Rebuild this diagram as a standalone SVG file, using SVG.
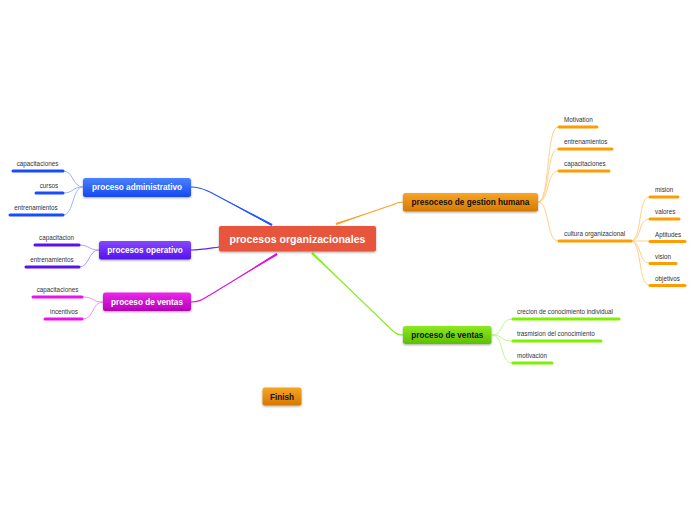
<svg xmlns="http://www.w3.org/2000/svg" width="696" height="520" viewBox="0 0 696 520">
<defs>
<filter id="sh" x="-20%" y="-30%" width="140%" height="180%"><feDropShadow dx="0" dy="1" stdDeviation="0.8" flood-color="#000" flood-opacity="0.35"/></filter>
<linearGradient id="gBlue" x1="0" y1="0" x2="0" y2="1"><stop offset="0" stop-color="#4a82ff"/><stop offset="1" stop-color="#1747ee"/></linearGradient>
<linearGradient id="gPurple" x1="0" y1="0" x2="0" y2="1"><stop offset="0" stop-color="#8447ff"/><stop offset="1" stop-color="#5512ee"/></linearGradient>
<linearGradient id="gMag" x1="0" y1="0" x2="0" y2="1"><stop offset="0" stop-color="#ea28ea"/><stop offset="1" stop-color="#b600b6"/></linearGradient>
<linearGradient id="gOr" x1="0" y1="0" x2="0" y2="1"><stop offset="0" stop-color="#f8a526"/><stop offset="1" stop-color="#d67800"/></linearGradient>
<linearGradient id="gGr" x1="0" y1="0" x2="0" y2="1"><stop offset="0" stop-color="#8de820"/><stop offset="1" stop-color="#5cc000"/></linearGradient>
</defs>
<style>
.node text{font-family:"Liberation Sans",Arial,sans-serif;font-weight:bold;font-size:8.2px;text-anchor:middle}
.lbl{font-family:"Liberation Sans",Arial,sans-serif;font-size:6.3px;fill:#333}
.lc{text-anchor:middle}
.ul{stroke-width:3;stroke-linecap:round;fill:none}
.cn{fill:none;stroke-width:1;opacity:0.6}
.main{fill:none;stroke-width:1.2}
</style>
<rect width="696" height="520" fill="#fff"/>

<g id="connectors">
<path class="main" stroke="#2255ff" d="M191,187 C200,187 203,189 210,192 L272,225"/>
<polygon fill="#2255ff" points="225,200 272.56,223.94 271.44,226.06"/>
<path class="main" stroke="#6220f5" d="M191,250 C200,250 205,249 219,247"/>
<path class="main" stroke="#e010e0" d="M191,302 C200,302 203,299 210,295 L277,254"/>
<polygon fill="#e010e0" points="230,282.76 277.63,255.02 276.37,252.98"/>
<path class="main" stroke="#ffa020" d="M336,224 L392,205 C396,203 398,202 403,202"/>
<polygon fill="#ffa020" points="335.6,222.9 336.4,225.1 370,212.46"/>
<path class="main" stroke="#88ee22" d="M312,253 L393,331 C396,334 398,335 403,335"/>
<polygon fill="#88ee22" points="311.17,253.86 312.83,252.14 348.45,288.1"/>

<g stroke="#5b82ff" class="cn">
<path d="M83,187 C72,187 74,171 63,171"/>
<path d="M83,187 C72,187 74,193 63,193"/>
<path d="M83,187 C72,187 74,215 63,215"/>
</g>
<g stroke="#8a55ff" class="cn">
<path d="M99,250 C88,250 90,245 79,245"/>
<path d="M99,250 C88,250 90,267 79,267"/>
</g>
<g stroke="#ee44ee" class="cn">
<path d="M103,302 C92,302 94,297 83,297"/>
<path d="M103,302 C92,302 94,319 83,319"/>
</g>
<g stroke="#ffb040" class="cn">
<path d="M538,202 C550,202 546,127 558,127"/>
<path d="M538,202 C550,202 546,149 558,149"/>
<path d="M538,202 C550,202 546,171 558,171"/>
<path d="M538,202 C550,202 546,241 558,241"/>
<path d="M631,241 C642,241 638,197 649,197"/>
<path d="M631,241 C642,241 638,219 649,219"/>
<path d="M631,241 L649,241"/>
<path d="M631,241 C642,241 638,263 649,263"/>
<path d="M631,241 C642,241 638,285 649,285"/>
</g>
<g stroke="#99ee44" class="cn">
<path d="M492,335 C504,335 500,319 512,319"/>
<path d="M492,335 C504,335 500,341 512,341"/>
<path d="M492,335 C504,335 500,363 512,363"/>
</g>
</g>

<g id="central" class="node">
<rect x="219" y="226" width="157" height="25.5" rx="2" fill="#e8543c" filter="url(#sh)"/>
<text x="297.5" y="242.6" fill="#fff" style="font-size:10.6px">procesos organizacionales</text>
</g>

<g id="proceso-administrativo" class="node">
<rect x="83" y="178" width="108" height="19" rx="2.5" fill="url(#gBlue)" filter="url(#sh)"/>
<text x="137" y="190.3" fill="#fff">proceso administrativo</text>
</g>
<g id="admin-capacitaciones"><text class="lbl lc" x="37.5" y="166">capacitaciones</text><line class="ul" stroke="#1a4cff" x1="13" y1="171" x2="63" y2="171"/></g>
<g id="admin-cursos"><text class="lbl lc" x="49" y="188">cursos</text><line class="ul" stroke="#1a4cff" x1="36" y1="193" x2="63" y2="193"/></g>
<g id="admin-entrenamientos"><text class="lbl lc" x="36" y="210">entrenamientos</text><line class="ul" stroke="#1a4cff" x1="10" y1="215" x2="63" y2="215"/></g>

<g id="procesos-operativo" class="node">
<rect x="99" y="241" width="92" height="18.5" rx="2.5" fill="url(#gPurple)" filter="url(#sh)"/>
<text x="145" y="253" fill="#fff">procesos operativo</text>
</g>
<g id="op-capacitacion"><text class="lbl lc" x="56.5" y="240">capacitacion</text><line class="ul" stroke="#5a10f0" x1="35" y1="245" x2="79" y2="245"/></g>
<g id="op-entrenamientos"><text class="lbl lc" x="52" y="262">entrenamientos</text><line class="ul" stroke="#5a10f0" x1="26" y1="267" x2="79" y2="267"/></g>

<g id="proceso-ventas-left" class="node">
<rect x="103" y="292.5" width="88" height="18.5" rx="2.5" fill="url(#gMag)" filter="url(#sh)"/>
<text x="147" y="304.7" fill="#fff">proceso de ventas</text>
</g>
<g id="v-capacitaciones"><text class="lbl lc" x="57.5" y="292">capacitaciones</text><line class="ul" stroke="#ee10ee" x1="33" y1="297" x2="82" y2="297"/></g>
<g id="v-incentivos"><text class="lbl lc" x="64" y="314">incentivos</text><line class="ul" stroke="#ee10ee" x1="45" y1="319" x2="82" y2="319"/></g>

<g id="gestion-humana" class="node">
<rect x="403" y="193" width="135" height="18.5" rx="2.5" fill="url(#gOr)" filter="url(#sh)"/>
<text x="470.5" y="205.3" fill="#111">presoceso de gestion humana</text>
</g>
<g id="gh-motivation"><text class="lbl" x="564" y="121.5">Motivation</text><line class="ul" stroke="#ff9c00" x1="559" y1="127" x2="597" y2="127"/></g>
<g id="gh-entrenamientos"><text class="lbl" x="564" y="143.5">entrenamientos</text><line class="ul" stroke="#ff9c00" x1="559" y1="149" x2="612" y2="149"/></g>
<g id="gh-capacitaciones"><text class="lbl" x="564" y="165.5">capacitaciones</text><line class="ul" stroke="#ff9c00" x1="559" y1="171" x2="609" y2="171"/></g>
<g id="gh-cultura"><text class="lbl" x="564" y="235.5">cultura organizacional</text><line class="ul" stroke="#ff9c00" x1="559" y1="241" x2="631" y2="241"/></g>
<g id="c-mision"><text class="lbl" x="655" y="191.5">mision</text><line class="ul" stroke="#ff9c00" x1="650" y1="197" x2="678" y2="197"/></g>
<g id="c-valores"><text class="lbl" x="655" y="213.5">valores</text><line class="ul" stroke="#ff9c00" x1="650" y1="219" x2="679" y2="219"/></g>
<g id="c-aptitudes"><text class="lbl" x="655" y="236.5">Aptitudes</text><line class="ul" stroke="#ff9c00" x1="650" y1="241.5" x2="685" y2="241.5"/></g>
<g id="c-vision"><text class="lbl" x="655" y="258.5">vision</text><line class="ul" stroke="#ff9c00" x1="650" y1="263.5" x2="676" y2="263.5"/></g>
<g id="c-objetivos"><text class="lbl" x="655" y="280.5">objetivos</text><line class="ul" stroke="#ff9c00" x1="650" y1="285.5" x2="685" y2="285.5"/></g>

<g id="proceso-ventas-right" class="node">
<rect x="403" y="326" width="88.5" height="18" rx="2.5" fill="url(#gGr)" filter="url(#sh)"/>
<text x="447.3" y="338" fill="#111">proceso de ventas</text>
</g>
<g id="pv-crecion"><text class="lbl" x="517" y="314">crecion de conocimiento individual</text><line class="ul" stroke="#7ef000" x1="513" y1="319" x2="619" y2="319"/></g>
<g id="pv-trasmision"><text class="lbl" x="517" y="336">trasmision del conocimiento</text><line class="ul" stroke="#7ef000" x1="513" y1="341" x2="601" y2="341"/></g>
<g id="pv-motivacion"><text class="lbl" x="517" y="358">motivación</text><line class="ul" stroke="#7ef000" x1="513" y1="363" x2="552" y2="363"/></g>

<g id="finish" class="node">
<rect x="262.5" y="387.5" width="39" height="18" rx="2.5" fill="url(#gOr)" filter="url(#sh)"/>
<text x="282" y="399.5" fill="#111">Finish</text>
</g>
</svg>
